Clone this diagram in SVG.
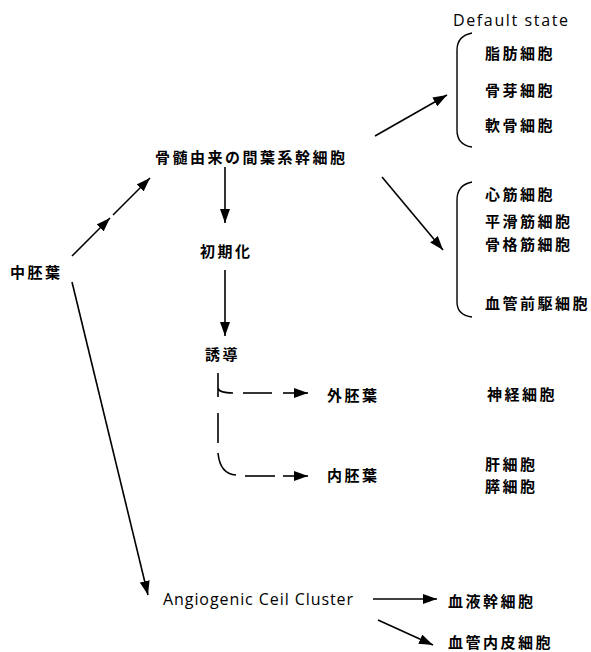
<svg xmlns="http://www.w3.org/2000/svg" width="591" height="652" viewBox="0 0 591 652">
<style>
.j{font-family:"Noto Sans CJK JP","Noto Sans CJK SC",sans-serif;font-size:15px;font-weight:bold;letter-spacing:2.5px;dominant-baseline:central;fill:#000}
.l{font-family:"Open Sans","Noto Sans",sans-serif;font-size:16px;fill:#000}
.c{stroke:#000;stroke-width:1.6;fill:none}
.b{stroke:#000;stroke-width:1.4;fill:none}
</style>
<defs>
<marker id="ah" viewBox="0 0 14 10" refX="14" refY="5" markerWidth="14" markerHeight="10" markerUnits="userSpaceOnUse" orient="auto">
<path d="M0,0 L14,5 L0,10 z" fill="#000"/>
</marker>
</defs>
<rect width="591" height="652" fill="#fff"/>
<g id="connectors">
<line class="c" x1="72" y1="256" x2="110" y2="218" marker-end="url(#ah)"/>
<line class="c" x1="113" y1="215" x2="150" y2="178" marker-end="url(#ah)"/>
<line class="c" x1="72" y1="282" x2="148" y2="595" marker-end="url(#ah)"/>
<line class="c" x1="225" y1="167" x2="225" y2="223" marker-end="url(#ah)"/>
<line class="c" x1="225" y1="270" x2="225" y2="336" marker-end="url(#ah)"/>
<line class="c" x1="375" y1="136" x2="447" y2="95" marker-end="url(#ah)"/>
<line class="c" x1="382" y1="177" x2="443" y2="250" marker-end="url(#ah)"/>
<path class="c" d="M218,373 V397 M218,388 Q219,393 233,393 M218,413 V443 M218,453 Q220,474 236,475"/>
<line class="c" x1="243" y1="393" x2="272" y2="393"/>
<line class="c" x1="283" y1="393" x2="308" y2="393" marker-end="url(#ah)"/>
<line class="c" x1="245" y1="476" x2="275" y2="476"/>
<line class="c" x1="283" y1="476" x2="308" y2="476" marker-end="url(#ah)"/>
<line class="c" x1="373" y1="599" x2="437" y2="599" marker-end="url(#ah)"/>
<line class="c" x1="378" y1="620" x2="433" y2="645" marker-end="url(#ah)"/>
</g>
<g id="mesoderm"><text class="j" x="10" y="271">中胚葉</text></g>
<g id="msc"><text class="j" x="155" y="156">骨髄由来の間葉系幹細胞</text></g>
<g id="init"><text class="j" x="200" y="250">初期化</text></g>
<g id="induce"><text class="j" x="205" y="353">誘導</text></g>
<g id="ectoderm"><text class="j" x="327" y="394">外胚葉</text></g>
<g id="endoderm"><text class="j" x="327" y="474">内胚葉</text></g>
<g id="neuron"><text class="j" x="487" y="393">神経細胞</text></g>
<g id="endo-cells"><text class="j" x="485" y="463">肝細胞</text><text class="j" x="485" y="485">膵細胞</text></g>
<g id="default">
<text class="l" x="453" y="26" textLength="115">Default state</text>
<path class="b" d="M472,33 Q457,36 457,50 V130 Q457,145 472,147"/>
<text class="j" x="485" y="52">脂肪細胞</text>
<text class="j" x="485" y="89">骨芽細胞</text>
<text class="j" x="485" y="124">軟骨細胞</text>
</g>
<g id="muscle">
<path class="b" d="M472,182 Q457,185 457,200 V302 Q457,315 472,317"/>
<text class="j" x="485" y="193">心筋細胞</text>
<text class="j" x="485" y="220">平滑筋細胞</text>
<text class="j" x="485" y="243">骨格筋細胞</text>
<text class="j" x="485" y="302">血管前駆細胞</text>
</g>
<g id="acc"><text class="l" x="163" y="605" textLength="190">Angiogenic Ceil Cluster</text></g>
<g id="hsc"><text class="j" x="448" y="600">血液幹細胞</text></g>
<g id="endothelial"><text class="j" x="448" y="641">血管内皮細胞</text></g>
</svg>
